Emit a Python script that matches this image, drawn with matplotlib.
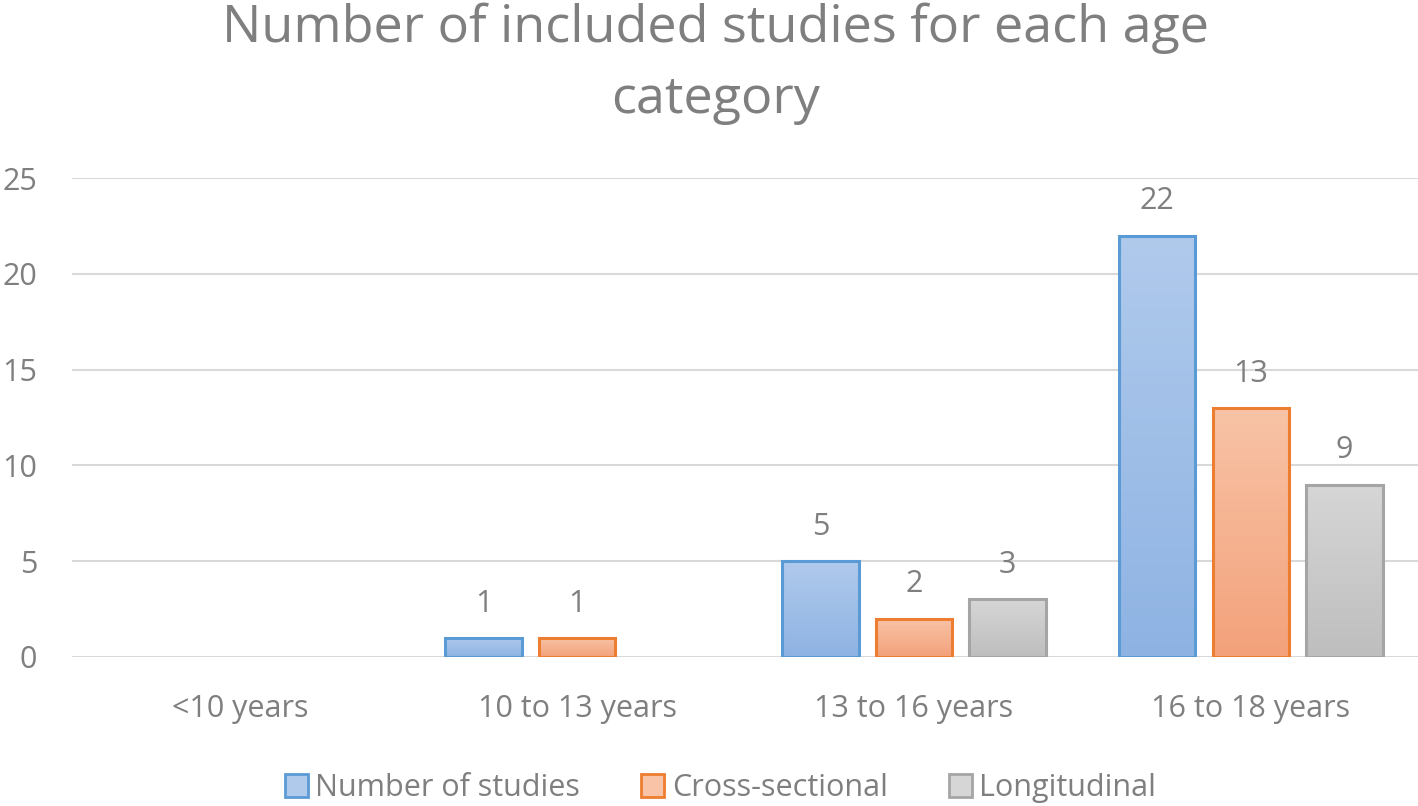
import numpy as np
import matplotlib.pyplot as plt
from matplotlib.patches import Patch
from matplotlib.colors import LinearSegmentedColormap

categories = ['<10 years', '10 to 13 years', '13 to 16 years', '16 to 18 years']
series_names = ['Number of studies', 'Cross-sectional', 'Longitudinal']
number_of_studies = [0, 1, 5, 22]
cross_sectional = [0, 1, 2, 13]
longitudinal = [0, 0, 3, 9]

edge_colors = ['#5B9BD5', '#ED7D31', '#A5A5A5']
top_colors = ['#B0CAEC', '#F8C3A6', '#D6D6D6']
bottom_colors = ['#8EB3E3', '#F3A27B', '#BEBEBE']
text_color = '#7F7F7F'

plt.rcParams['font.family'] = ['Open Sans', 'DejaVu Sans']

fig = plt.figure(figsize=(14.18, 8.06), dpi=100)
ax = fig.add_axes([0.0508, 0.185, 0.95, 0.594])

series = [number_of_studies, cross_sectional, longitudinal]
x = np.arange(len(categories))
offsets = [-0.278, 0.0, 0.278]
width = 0.227
grad = np.linspace(0, 1, 256).reshape(-1, 1)

for vals, off, ec, tc, bc in zip(series, offsets, edge_colors, top_colors, bottom_colors):
    cmap = LinearSegmentedColormap.from_list('g', [tc, bc])
    bars = ax.bar(x + off, vals, width, color=bc, edgecolor=ec, linewidth=2.2, zorder=3)
    for b, v in zip(bars, vals):
        if v == 0:
            b.set_visible(False)
            continue
        x0, y0 = b.get_x(), b.get_y()
        im = ax.imshow(grad, cmap=cmap, aspect='auto', origin='upper',
                       extent=[x0, x0 + b.get_width(), y0, y0 + b.get_height()], zorder=3)
        im.set_clip_path(b)
        b.set_facecolor('none')
        b.set_zorder(4)
        ax.text(b.get_x() + b.get_width() / 2, v + 1.0, str(v), ha='center', va='bottom',
                fontsize=22, color=text_color)

ax.set_xlim(-0.5, 3.5)
ax.set_ylim(0, 25)
ax.set_yticks([0, 5, 10, 15, 20, 25])
ax.set_xticks(x)
ax.set_xticklabels(categories)
ax.grid(axis='y', color='#D9D9D9', linewidth=1.5, zorder=0)
ax.set_axisbelow(True)
for s in ax.spines.values():
    s.set_visible(False)
ax.tick_params(length=0, labelsize=22, labelcolor=text_color)
ax.tick_params(axis='x', pad=27)
ax.tick_params(axis='y', pad=25)

ax.set_title('Number of included studies for each age\ncategory', fontsize=37.5,
             color=text_color, pad=47, linespacing=1.5, x=0.478)

handles = [Patch(facecolor=(tc), edgecolor=ec, linewidth=2) for tc, ec in zip(top_colors, edge_colors)]
fig.legend(handles, series_names, loc='center', bbox_to_anchor=(0.508, 0.022), ncol=3,
           frameon=False, fontsize=22, labelcolor=text_color, handlelength=0.75,
           handleheight=0.75, handletextpad=0.25, columnspacing=2.0)

fig.savefig('out.png', dpi=100)
